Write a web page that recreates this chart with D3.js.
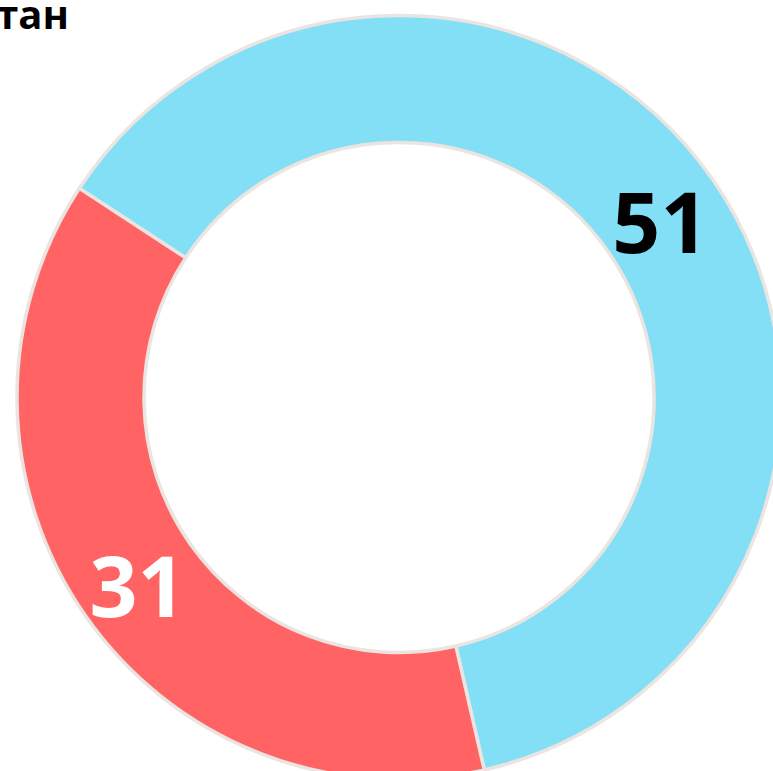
<!DOCTYPE html>
<html>
<head>
<meta charset="utf-8">
<script src="https://cdn.jsdelivr.net/npm/d3@7"></script>
<style>
  html, body { margin: 0; padding: 0; background: #fff; overflow: hidden; }
  svg { display: block; font-family: "Open Sans", sans-serif; }
</style>
</head>
<body>
<svg id="donut"></svg>
<script>
// chart data
const categories = ["Другие", "Против"];
const values = [51, 31];
const sliceColors = ["#82dff6", "#ff6363"];
const labelColors = ["#000000", "#ffffff"];
const title = "Казахстан";

const width = 773, height = 771;
const cx = 399, cy = 397.5;
const outerR = 382, innerR = 255;

const svg = d3.select("#donut")
    .attr("width", width)
    .attr("height", height);

const data = categories.map((c, i) => ({ name: c, value: values[i], color: sliceColors[i], label: labelColors[i] }));

const pie = d3.pie()
    .value(d => d.value)
    .sort(null)
    .startAngle(-56.8 * Math.PI / 180)
    .endAngle(-56.8 * Math.PI / 180 + 2 * Math.PI);

const arc = d3.arc()
    .innerRadius(innerR)
    .outerRadius(outerR);

const g = svg.append("g")
    .attr("transform", `translate(${cx},${cy})`);

g.selectAll("path")
    .data(pie(data))
    .enter().append("path")
    .attr("d", arc)
    .attr("fill", d => d.data.color)
    .attr("stroke", "#ebe4e1")
    .attr("stroke-width", 3.5);

g.selectAll("text.val")
    .data(pie(data))
    .enter().append("text")
    .attr("class", "val")
    .attr("transform", d => `translate(${arc.centroid(d)})`)
    .attr("text-anchor", "middle")
    .attr("dy", "0.45em")
    .attr("font-size", 84)
    .attr("font-weight", 700)
    .attr("fill", d => d.data.label)
    .text(d => d.data.value);

// title, partly cut off at the left edge
svg.append("text")
    .attr("x", 69)
    .attr("y", 29)
    .attr("text-anchor", "end")
    .attr("font-size", 40)
    .attr("font-weight", 700)
    .attr("fill", "#000")
    .text(title);
</script>
</body>
</html>
